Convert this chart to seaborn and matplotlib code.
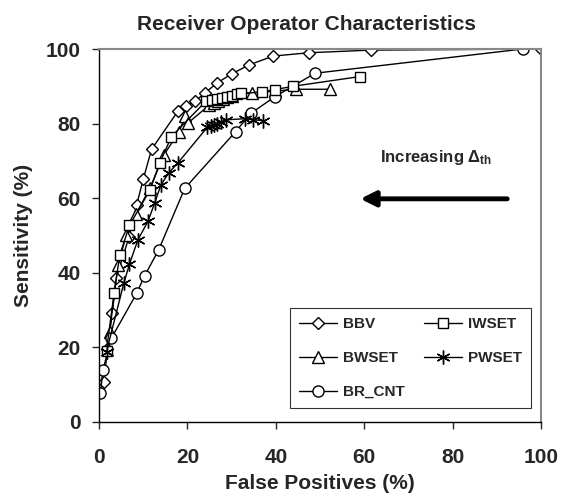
import seaborn as sns
import matplotlib.pyplot as plt
import pandas as pd

# Datos (False Positives %, Sensitivity %)
bbv_x = [1.1, 1.9, 3.0, 3.9, 6.8, 8.5, 10.0, 11.9, 17.9, 19.8, 21.7, 23.9, 26.6, 30.0, 33.9, 39.4, 47.5, 61.5, 100.0]
bbv_y = [10.7, 19.4, 29.2, 38.5, 49.6, 58.1, 65.0, 73.1, 83.4, 84.8, 86.0, 88.1, 90.8, 93.3, 95.7, 98.1, 99.0, 99.7, 100.0]

iwset_x = [1.7, 3.4, 4.7, 6.9, 11.6, 13.7, 16.4, 24.2, 25.5, 26.7, 27.8, 29.0, 30.2, 31.2, 32.2, 36.8, 39.8, 43.9, 59.0]
iwset_y = [19.1, 34.4, 44.7, 52.7, 62.3, 69.3, 76.5, 86.0, 86.3, 86.6, 86.9, 87.2, 87.5, 87.8, 88.1, 88.4, 89.1, 90.0, 92.6]

bwset_x = [2.4, 4.3, 6.2, 8.4, 11.5, 14.7, 18.1, 19.5, 20.1, 25.0, 26.0, 27.0, 28.0, 29.0, 30.0, 34.7, 39.8, 44.5, 52.2]
bwset_y = [24.1, 42.0, 50.1, 55.8, 62.6, 71.6, 77.8, 82.0, 80.1, 85.0, 85.5, 86.0, 86.5, 87.0, 87.5, 88.3, 88.7, 89.2, 89.2]

pwset_x = [1.7, 5.6, 6.9, 8.8, 11.1, 12.6, 14.0, 15.8, 17.9, 24.5, 25.3, 26.0, 26.8, 27.6, 28.8, 33.0, 34.8, 37.1]
pwset_y = [18.8, 37.1, 42.3, 48.8, 53.8, 58.7, 63.5, 66.8, 69.5, 79.0, 79.3, 79.6, 80.0, 80.4, 81.0, 81.3, 81.0, 80.8]

brcnt_x = [0.3, 0.9, 2.8, 8.5, 10.3, 13.5, 19.4, 30.9, 34.3, 39.8, 48.9, 95.9]
brcnt_y = [7.6, 13.9, 22.4, 34.4, 39.1, 46.1, 62.6, 77.8, 82.7, 87.2, 93.5, 100.0]

# orden pensado para una leyenda de 2 columnas (se llena por columnas)
series = [
    ('BBV', bbv_x, bbv_y, 'D', 6),
    ('BWSET', bwset_x, bwset_y, '^', 8),
    ('BR_CNT', brcnt_x, brcnt_y, 'o', 8),
    ('IWSET', iwset_x, iwset_y, 's', 7.5),
    ('PWSET', pwset_x, pwset_y, (6, 2, 0), 10),
]

sns.set_style('ticks')
plt.rcParams['font.family'] = ['Liberation Sans', 'DejaVu Sans']
plt.rcParams['font.weight'] = 'bold'
plt.rcParams['mathtext.fontset'] = 'custom'
plt.rcParams['mathtext.rm'] = 'Liberation Sans:bold'
plt.rcParams['mathtext.bf'] = 'Liberation Sans:bold'
plt.rcParams['mathtext.it'] = 'Liberation Sans:bold'

fig = plt.figure(figsize=(5.67, 4.97), dpi=100)
ax = fig.add_axes([0.1746, 0.1515, 0.7794, 0.7499])

for nombre, xs, ys, marca, tam in series:
    df = pd.DataFrame({'x': xs, 'y': ys})
    sns.lineplot(data=df, x='x', y='y', ax=ax, color='black', linewidth=1.0,
                 marker=marca, markersize=tam, markerfacecolor='white',
                 markeredgecolor='black', markeredgewidth=1.0,
                 sort=False, estimator=None, label=nombre)

ax.set_xlim(0, 100)
ax.set_ylim(0, 100)
ax.set_xticks(range(0, 101, 20))
ax.set_yticks(range(0, 101, 20))
ax.tick_params(axis='both', direction='out', length=5, width=1, labelsize=15)
ax.tick_params(axis='x', pad=14)
ax.tick_params(axis='y', pad=8)
for lab in ax.get_xticklabels() + ax.get_yticklabels():
    lab.set_fontweight('bold')

for lado in ['left', 'bottom']:
    ax.spines[lado].set_color('black')
    ax.spines[lado].set_linewidth(1.0)
for lado in ['top', 'right']:
    ax.spines[lado].set_visible(True)
    ax.spines[lado].set_color('#888888')
    ax.spines[lado].set_linewidth(1.5)

ax.set_title('Receiver Operator Characteristics', fontsize=15, fontweight='bold',
             pad=14, x=0.47)
ax.set_xlabel('False Positives (%)', fontsize=15, fontweight='bold', labelpad=5)
ax.set_ylabel('Sensitivity (%)', fontsize=15, fontweight='bold', labelpad=9)

# Flecha y texto
ax.annotate('', xy=(58.5, 59.8), xytext=(93, 59.8),
            arrowprops=dict(arrowstyle='-|>,head_length=0.9,head_width=0.45',
                            color='black', lw=3.5))
ax.text(63.5, 70.8, r'Increasing $\Delta_{\mathrm{th}}$', fontsize=12,
        fontweight='bold', va='center', ha='left')

leg = ax.legend(loc='upper left', bbox_to_anchor=(0.432, 0.305), ncol=2,
                frameon=True, fancybox=False, edgecolor='black',
                prop={'weight': 'bold', 'size': 11}, handlelength=2.5,
                columnspacing=1.3, labelspacing=1.3, borderpad=0.6,
                handletextpad=0.35, borderaxespad=0)
leg.get_frame().set_linewidth(0.8)

plt.savefig('out.png', dpi=100)
